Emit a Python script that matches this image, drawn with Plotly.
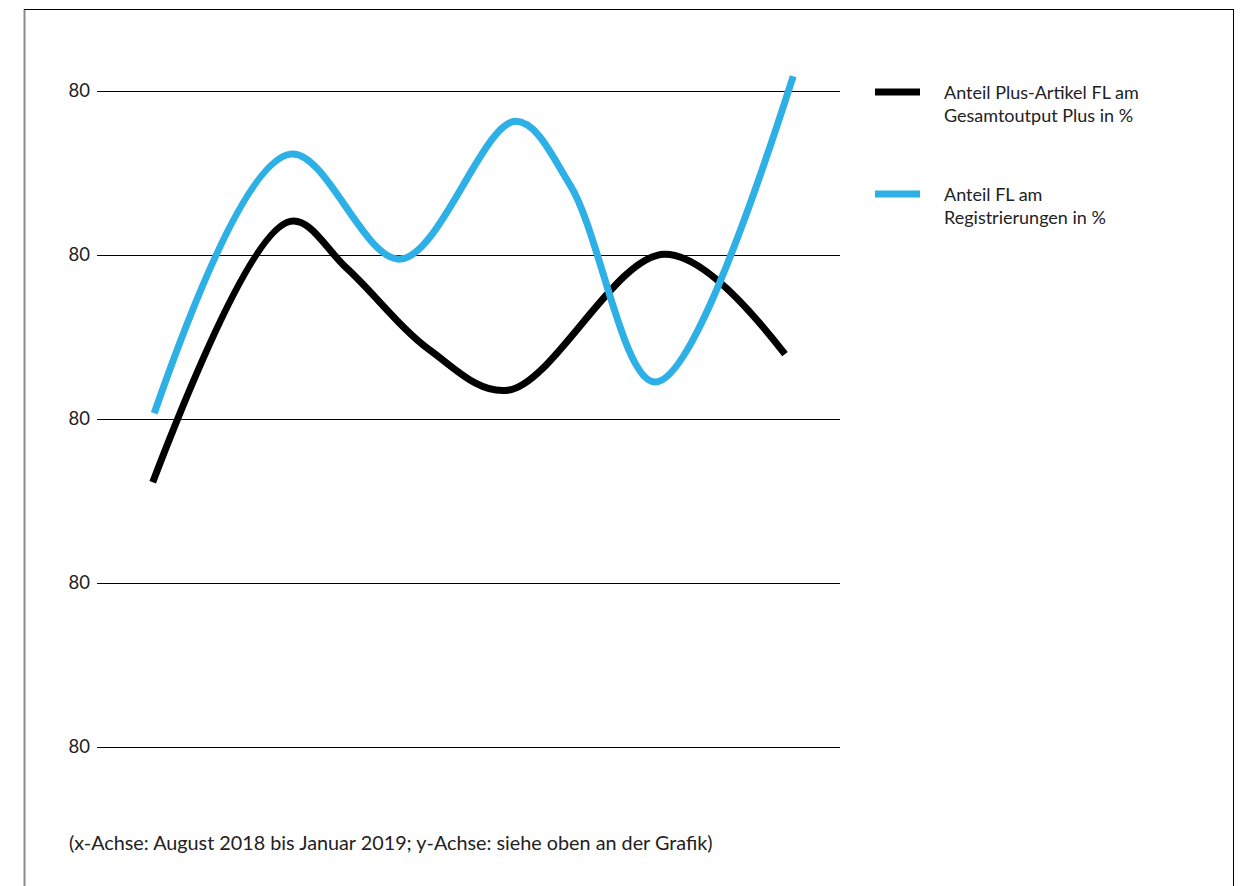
import plotly.graph_objects as go

# Monthly positions along the x-axis (August 2018 .. January 2019) and shape points
x_plus = [7.5, 26.0, 33.6, 44.8, 55.3, 76.4, 92.6]
y_plus = [32.3, 64.1, 58.4, 48.4, 43.5, 60.1, 47.9]

x_reg = [7.7, 26.0, 40.8, 56.3, 63.7, 75.1, 93.7]
y_reg = [40.7, 72.3, 59.5, 76.3, 68.5, 44.5, 81.8]

y_ticks = [0, 20, 40, 60, 80]
y_tick_labels = ["80", "80", "80", "80", "80"]

name_plus = "Anteil Plus-Artikel FL am<br>Gesamtoutput Plus in %"
name_reg = "Anteil FL am<br>Registrierungen in %"
footnote = "(x-Achse: August 2018 bis Januar 2019; y-Achse: siehe oben an der Grafik)"

BLACK = "#000000"
BLUE = "#2cb0e6"
FONT = "Lato"
TEXT = "#222222"

W, H = 1250, 886
L, R, T, B = 97, 410, 9, 98
pw, ph = W - L - R, H - T - B


def px_x(p):
    return (p - L) / pw


def px_y(p):
    return 1 - (p - T) / ph


fig = go.Figure()
fig.add_trace(go.Scatter(x=x_plus, y=y_plus, mode="lines", name=name_plus,
                         line=dict(color=BLACK, width=7, shape="spline", smoothing=1.0)))
fig.add_trace(go.Scatter(x=x_reg, y=y_reg, mode="lines", name=name_reg,
                         line=dict(color=BLUE, width=7, shape="spline", smoothing=1.0)))

shapes = [
    # outer frame: left, top, right
    dict(type="line", xref="paper", yref="paper", x0=px_x(24.5), x1=px_x(24.5),
         y0=px_y(9), y1=px_y(890), line=dict(color="#8a8a8a", width=2)),
    dict(type="line", xref="paper", yref="paper", x0=px_x(24), x1=px_x(1234),
         y0=px_y(9.5), y1=px_y(9.5), line=dict(color="#000000", width=1)),
    dict(type="line", xref="paper", yref="paper", x0=px_x(1233.5), x1=px_x(1233.5),
         y0=px_y(9), y1=px_y(890), line=dict(color="#000000", width=1)),
]

annotations = []
legend_rows = [(name_plus, BLACK, 92), (name_reg, BLUE, 194)]
for text, color, ypx in legend_rows:
    shapes.append(dict(type="line", xref="paper", yref="paper",
                       x0=px_x(875), x1=px_x(920), y0=px_y(ypx), y1=px_y(ypx),
                       line=dict(color=color, width=7)))
    annotations.append(dict(text=text, xref="paper", yref="paper",
                            x=px_x(942), y=px_y(ypx - 13), xanchor="left", yanchor="top",
                            showarrow=False, align="left",
                            font=dict(family=FONT, size=18, color=TEXT)))

annotations.append(dict(text=footnote, xref="paper", yref="paper",
                        x=px_x(67), y=px_y(842), xanchor="left", yanchor="middle",
                        showarrow=False, font=dict(family=FONT, size=19.8, color=TEXT)))

fig.update_layout(
    width=W, height=H,
    margin=dict(l=L, r=R, t=T, b=B),
    paper_bgcolor="white", plot_bgcolor="white",
    showlegend=False,
    shapes=shapes, annotations=annotations,
    xaxis=dict(range=[0, 100], showgrid=False, zeroline=False, showticklabels=False,
               showline=False, ticks=""),
    yaxis=dict(range=[-5, 90], tickvals=y_ticks, ticktext=y_tick_labels,
               showgrid=True, gridcolor="#000000", gridwidth=1, zeroline=False,
               showline=False, ticks="", ticklabelstandoff=6,
               tickfont=dict(family=FONT, size=18.5, color=TEXT)),
)

fig.write_html("out.html")
